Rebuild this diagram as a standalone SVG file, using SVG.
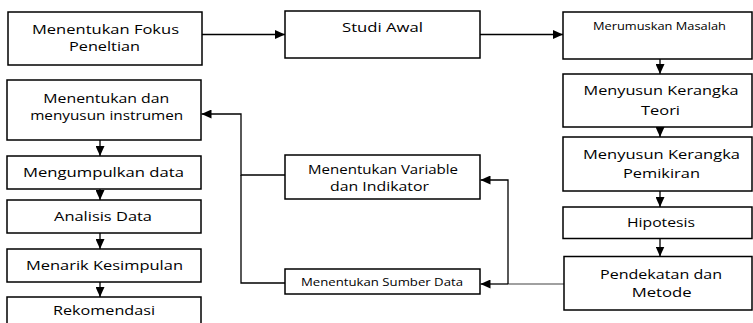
<svg xmlns="http://www.w3.org/2000/svg" width="753" height="323" viewBox="0 0 753 323">
<defs>
<marker id="ah" markerUnits="userSpaceOnUse" markerWidth="10" markerHeight="9" refX="10" refY="4.5" orient="auto">
<path d="M0,0 L10,4.5 L0,9 Z" fill="#000"/>
</marker>
<style>
rect.box{fill:#fff;stroke:#000;stroke-width:1.5}
text{font-family:"Open Sans","Liberation Sans",sans-serif;font-size:13.5px;fill:#000;text-anchor:middle}
text.s{font-size:11px}
text.m{font-size:12px}
.c{fill:none;stroke:#000;stroke-width:1.3}
.g{fill:none;stroke:#808080;stroke-width:1.3}
.a{marker-end:url(#ah)}
</style>
</defs>
<rect width="753" height="323" fill="#fff"/>

<g id="connectors">
<path class="c a" d="M202,34.5 H285"/>
<path class="c a" d="M480,34.5 H563"/>
<path class="c a" d="M660,59 V74"/>
<path class="c a" d="M660,127 V137"/>
<path class="c a" d="M660,191 V207"/>
<path class="c a" d="M660,238.5 V256.5"/>
<path class="c a" d="M100,140 V156"/>
<path class="c a" d="M100,189 V200"/>
<path class="c a" d="M100,233 V249"/>
<path class="c a" d="M100,282 V297"/>
<path class="g" d="M564,284 H508"/>
<path class="c a" d="M508,284 H480.5"/>
<path class="c a" d="M508,284 V180 H480.5"/>
<path class="c a" d="M285,175 H241 V114 H201.5"/>
<path class="c" d="M285,283 H241 V175"/>
</g>

<g id="fokus">
<rect class="box" x="8" y="12" width="194" height="53"/>
<text x="105.5" y="33.7" textLength="147" lengthAdjust="spacingAndGlyphs">Menentukan Fokus</text>
<text x="104.5" y="50.7" textLength="71" lengthAdjust="spacingAndGlyphs">Peneltian</text>
</g>

<g id="studi">
<rect class="box" x="285" y="11" width="195" height="47"/>
<text x="382.5" y="31.5" textLength="81" lengthAdjust="spacingAndGlyphs">Studi Awal</text>
</g>

<g id="merumuskan">
<rect class="box" x="563" y="12" width="189" height="47"/>
<text class="s" x="659.5" y="29.5" textLength="133" lengthAdjust="spacingAndGlyphs">Merumuskan Masalah</text>
</g>

<g id="teori">
<rect class="box" x="563" y="74" width="189" height="53"/>
<text x="661" y="94.7" textLength="155" lengthAdjust="spacingAndGlyphs">Menyusun Kerangka</text>
<text x="660.5" y="115" textLength="39" lengthAdjust="spacingAndGlyphs">Teori</text>
</g>

<g id="pemikiran">
<rect class="box" x="563" y="137" width="189" height="54"/>
<text x="661.5" y="158.5" textLength="157" lengthAdjust="spacingAndGlyphs">Menyusun Kerangka</text>
<text x="661.5" y="177.7" textLength="77" lengthAdjust="spacingAndGlyphs">Pemikiran</text>
</g>

<g id="hipotesis">
<rect class="box" x="563" y="207" width="189" height="31.5"/>
<text x="661" y="227.3" textLength="68" lengthAdjust="spacingAndGlyphs">Hipotesis</text>
</g>

<g id="pendekatan">
<rect class="box" x="564" y="256.5" width="188" height="53.5"/>
<text x="661" y="279" textLength="122" lengthAdjust="spacingAndGlyphs">Pendekatan dan</text>
<text x="661.7" y="296.7" textLength="60" lengthAdjust="spacingAndGlyphs">Metode</text>
</g>

<g id="instrumen">
<rect class="box" x="7" y="80" width="194" height="60"/>
<text x="106.3" y="102.5" textLength="126" lengthAdjust="spacingAndGlyphs">Menentukan dan</text>
<text x="106.7" y="119.5" textLength="153" lengthAdjust="spacingAndGlyphs">menyusun instrumen</text>
</g>

<g id="mengumpulkan">
<rect class="box" x="7" y="156" width="194" height="33"/>
<text x="103.5" y="177" textLength="161" lengthAdjust="spacingAndGlyphs">Mengumpulkan data</text>
</g>

<g id="analisis">
<rect class="box" x="7" y="200" width="194" height="33"/>
<text x="103" y="221" textLength="98" lengthAdjust="spacingAndGlyphs">Analisis Data</text>
</g>

<g id="menarik">
<rect class="box" x="7" y="249" width="194" height="33"/>
<text x="104.5" y="270" textLength="157" lengthAdjust="spacingAndGlyphs">Menarik Kesimpulan</text>
</g>

<g id="rekomendasi">
<rect class="box" x="7" y="297" width="194" height="40"/>
<text x="104" y="315" textLength="102" lengthAdjust="spacingAndGlyphs">Rekomendasi</text>
</g>

<g id="variable">
<rect class="box" x="285" y="155" width="195" height="44"/>
<text class="m" x="383" y="174.3" textLength="150" lengthAdjust="spacingAndGlyphs">Menentukan Variable</text>
<text class="m" x="379.5" y="190.7" textLength="99" lengthAdjust="spacingAndGlyphs">dan Indikator</text>
</g>

<g id="sumber">
<rect class="box" x="285" y="269" width="195" height="25"/>
<text class="s" x="382" y="285.5" textLength="162" lengthAdjust="spacingAndGlyphs">Menentukan Sumber Data</text>
</g>
</svg>
